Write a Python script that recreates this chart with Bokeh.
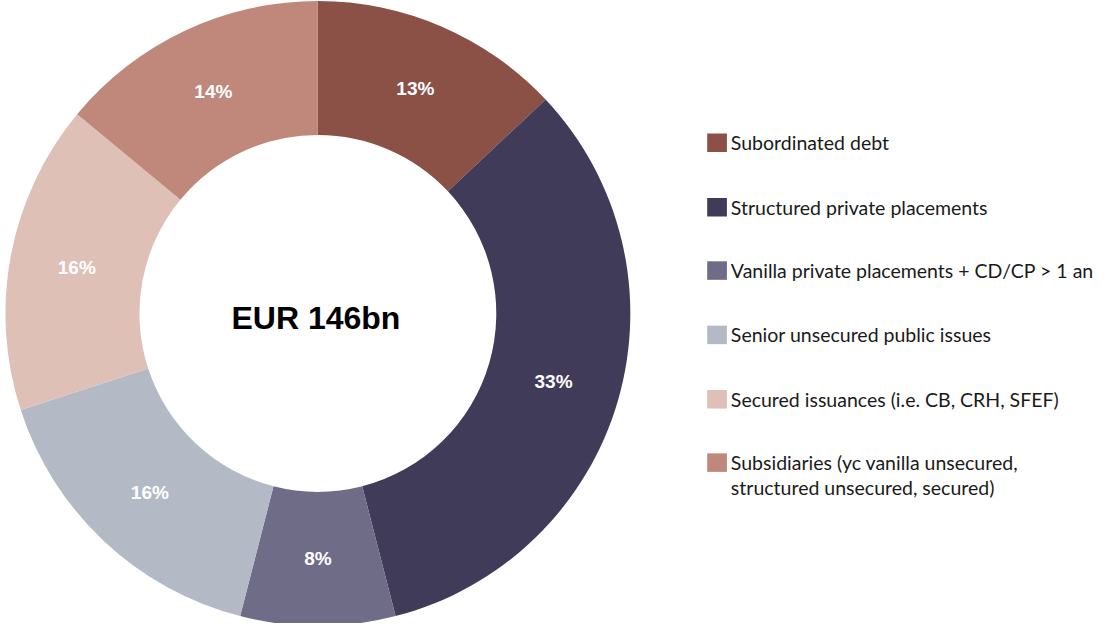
import math
from bokeh.plotting import figure
from bokeh.models import Range1d
from bokeh.core.properties import value
from bokeh.embed import file_html
from bokeh.resources import INLINE

categories = [
    "Subordinated debt",
    "Structured private placements",
    "Vanilla private placements + CD/CP > 1 an",
    "Senior unsecured public issues",
    "Secured issuances (i.e. CB, CRH, SFEF)",
    "Subsidiaries (yc vanilla unsecured,\nstructured unsecured, secured)",
]
shares = [13, 33, 8, 16, 16, 14]
colors = ["#8B5046", "#403B58", "#6E6C86", "#B3BAC6", "#DEC0B7", "#BF887A"]
center_label = "EUR 146bn"

W, H = 1098, 623
RW, RH = 1114, 639
p = figure(width=W, height=H, output_backend="svg", toolbar_location=None,
           x_range=Range1d(0, RW), y_range=Range1d(0, RH),
           min_border=0)
p.axis.visible = False
p.grid.visible = False
p.outline_line_color = None
p.background_fill_color = "white"
p.border_fill_color = "white"

cx, cy = 322, RH - 321
r_out, r_in = 317, 181
total = sum(shares)
cum = 0.0
starts, ends, lx, ly, labels = [], [], [], [], []
for s in shares:
    a0 = math.pi / 2 - 2 * math.pi * cum / total
    cum += s
    a1 = math.pi / 2 - 2 * math.pi * cum / total
    starts.append(a0)
    ends.append(a1)
    mid = (a0 + a1) / 2
    rm = (r_out + r_in) / 2
    lx.append(cx + rm * math.cos(mid))
    ly.append(cy + rm * math.sin(mid) * (RH / H) * (W / RW))
    labels.append(f"{s}%")

p.annular_wedge(x=cx, y=cy, inner_radius=r_in, outer_radius=r_out,
                start_angle=starts, end_angle=ends, direction="clock",
                fill_color=colors, line_color=None)

p.text(x=lx, y=ly, text=labels, text_color="white", text_font=value("Liberation Sans"),
       text_font_style="bold", text_font_size="19px", text_align="center",
       text_baseline="middle")

p.text(x=[320], y=[RH - 326], text=[center_label], text_color="black",
       text_font=value("Liberation Sans"), text_font_style="bold",
       text_font_size="32px", text_align="center", text_baseline="middle")

# legend
row_y = [146, 212, 277, 343, 409, 474]
sq_x = [727] * len(categories)
sq_y = [RH - y for y in row_y]
p.rect(x=sq_x, y=sq_y, width=20, height=19, fill_color=colors, line_color=None)
for txt, y in zip(categories, row_y):
    lines = txt.split("\n")
    for i, ln in enumerate(lines):
        p.text(x=[741], y=[RH - (y + 26 * i)], text=[ln], text_color="#1a1a1a",
               text_font=value("Lato"), text_font_size="19.5px",
               text_align="left", text_baseline="middle")

open("out.html", "w").write(file_html(p, INLINE))
